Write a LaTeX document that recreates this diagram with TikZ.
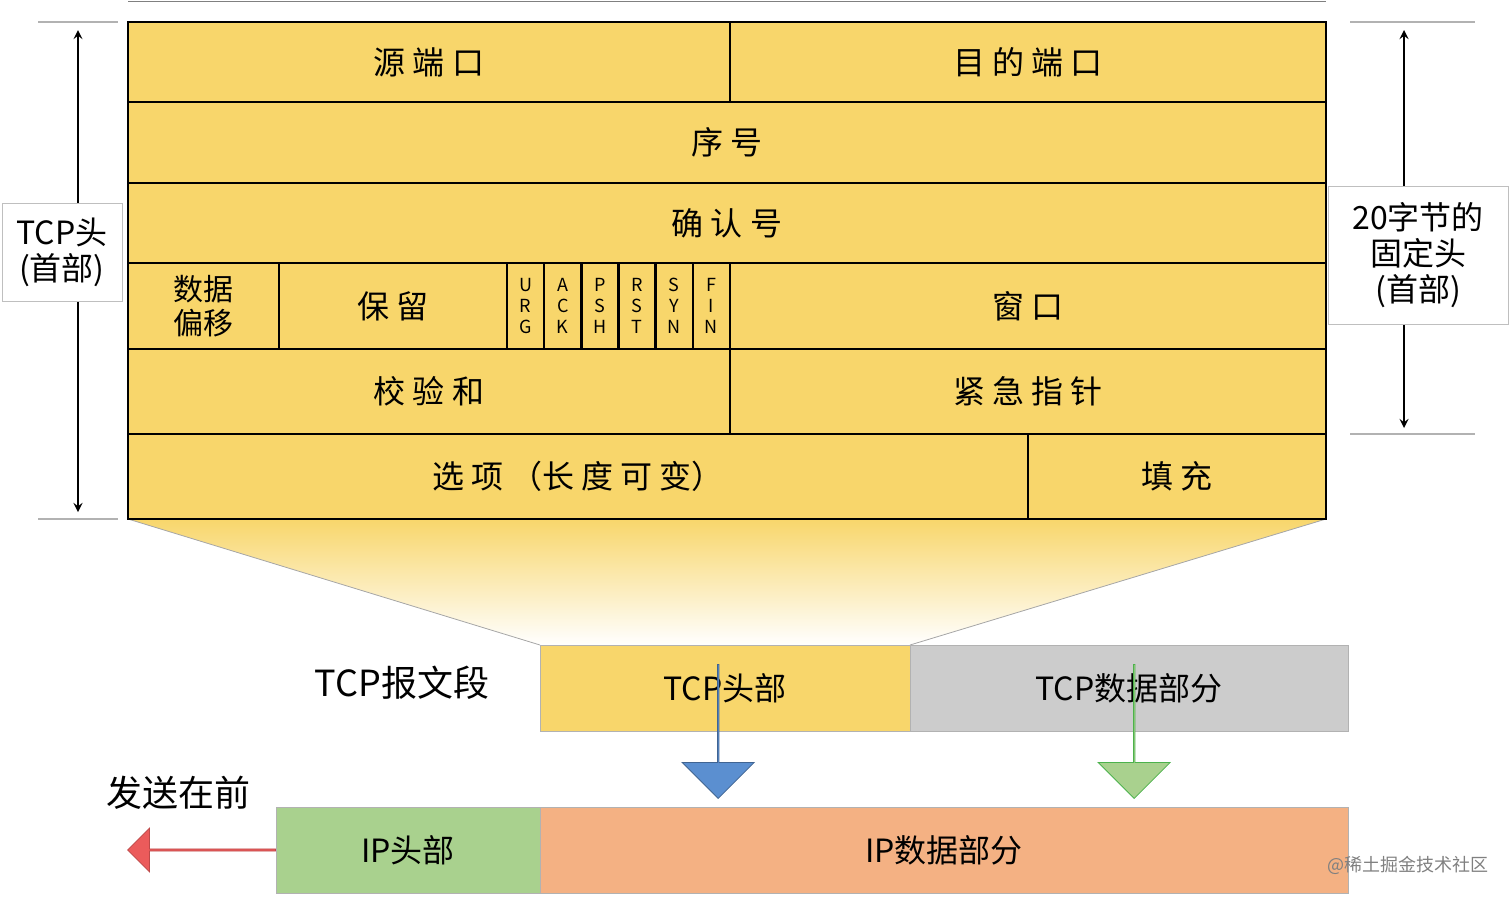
\documentclass[tikz,border=0pt]{standalone}
\usepackage{fontspec}
\setmainfont{Noto Sans CJK SC}
\usetikzlibrary{shapes.arrows}
\definecolor{yel}{HTML}{F8D66B}
\definecolor{gry}{HTML}{CCCCCC}
\definecolor{grn}{HTML}{A9D18E}
\definecolor{sal}{HTML}{F4B183}
\definecolor{blu}{HTML}{5B8FD0}
\definecolor{red1}{HTML}{EB5B5B}
\tikzset{cell/.style={draw=black,line width=1.2pt,fill=yel},
 lab/.style={font=\fontsize{16}{18}\selectfont},
 flag/.style={font=\fontsize{9}{10.5}\selectfont,align=center},
 side/.style={draw=gray!50,fill=white,align=center,font=\fontsize{16}{18}\selectfont,inner sep=1pt},
 bar/.style={draw=gray!60,line width=0.6pt}}
\begin{document}
\begin{tikzpicture}[x=0.5pt,y=-0.5pt]
\useasboundingbox (0,0) rectangle (1512,901);
\draw[gray] (128,1) -- (1326,1);
% trapezoid
\shade[top color=yel,bottom color=white] (128,519) -- (1326,519) -- (910,645) -- (540,645) -- cycle;
\draw[gray!70] (128,519) -- (540,645) (1326,519) -- (910,645);
% grid
\foreach \a/\b/\c/\d/\n/\t in {128/22/730/102/r1a/源 端 口,730/22/1326/102/r1b/目 的 端 口,
 128/102/1326/183/r2/序 号,128/183/1326/263/r3/确 认 号,
 730/263/1326/349/r4w/窗 口,128/349/730/434/r5a/校 验 和,730/349/1326/434/r5b/紧 急 指 针,
 128/434/1028/519/r6a/选 项 （长 度 可 变）,1028/434/1326/519/r6b/填 充,279/263/507/349/r4r/保 留}
 {\draw[cell] (\a,\b) rectangle (\c,\d); \node[lab] (\n) at ({(\a+\c)/2},{(\b+\d)/2}) {\t};}
\draw[cell] (128,263) rectangle (279,349);
\node[lab,align=center,font=\fontsize{15}{17}\selectfont] (off) at (203,306) {数据\\偏移};
\foreach \i/\t in {0/U\\R\\G,1/A\\C\\K,2/P\\S\\H,3/R\\S\\T,4/S\\Y\\N,5/F\\I\\N}
 {\draw[cell] ({507+37.17*\i},263) rectangle ({544.17+37.17*\i},349);
  \node[flag] (f\i) at ({525.6+37.17*\i},306) {\t};}
% left
\draw[bar] (38,22) -- (118,22) (38,519) -- (118,519);
\coordinate (lt) at (78,30); \coordinate (lb) at (78,512);
\draw[->,>=stealth,line width=1pt] (78,270) -- (lt);
\draw[->,>=stealth,line width=1pt] (78,270) -- (lb);
\node[side,minimum width=60pt,minimum height=49pt] (lh) at (62,252) {TCP头\\(首部)};
% right
\draw[bar] (1350,22) -- (1475,22) (1350,434) -- (1475,434);
\coordinate (rt) at (1404,30); \coordinate (rb) at (1404,428);
\draw[->,>=stealth,line width=1pt] (1404,255) -- (rt);
\draw[->,>=stealth,line width=1pt] (1404,255) -- (rb);
\node[side,minimum width=90pt,minimum height=69pt] (rh) at (1418,255) {20字节的\\固定头\\(首部)};
% segment
\draw[gray!60,fill=yel] (540,645) rectangle (910,731);
\node[lab] (th) at (725,688) {TCP头部};
\draw[gray!60,fill=gry] (910,645) rectangle (1348,731);
\node[lab] (td) at (1129,688) {TCP数据部分};
\node[font=\fontsize{18}{20}\selectfont] (seg) at (402,683) {TCP报文段};
% ip
\draw[gray!60,fill=grn] (276,807) rectangle (540,893);
\node[lab] (ih) at (408,850) {IP头部};
\draw[gray!60,fill=sal] (540,807) rectangle (1348,893);
\node[lab] (id) at (944,850) {IP数据部分};
\node[font=\fontsize{18}{20}\selectfont] (send) at (178,793) {发送在前};
\node[single arrow,draw=red1!80!black,fill=red1,shape border rotate=180,minimum width=22pt,minimum height=74pt,single arrow head extend=4pt,inner sep=0pt,anchor=east] (ra) at (276,850) {};
\node[single arrow,draw=blu!70!black,fill=blu,shape border rotate=270,minimum width=36pt,minimum height=67pt,single arrow head extend=9pt,inner sep=0pt,anchor=west] (ba) at (717,731) {};
\node[single arrow,draw=green!40!gray,fill=grn,shape border rotate=270,minimum width=36pt,minimum height=67pt,single arrow head extend=9pt,inner sep=0pt,anchor=west] (ga) at (1133,731) {};
\node[text=gray,font=\fontsize{9}{10}\selectfont] (wm) at (1408,865) {@稀土掘金技术社区};
\end{tikzpicture}
\end{document}
